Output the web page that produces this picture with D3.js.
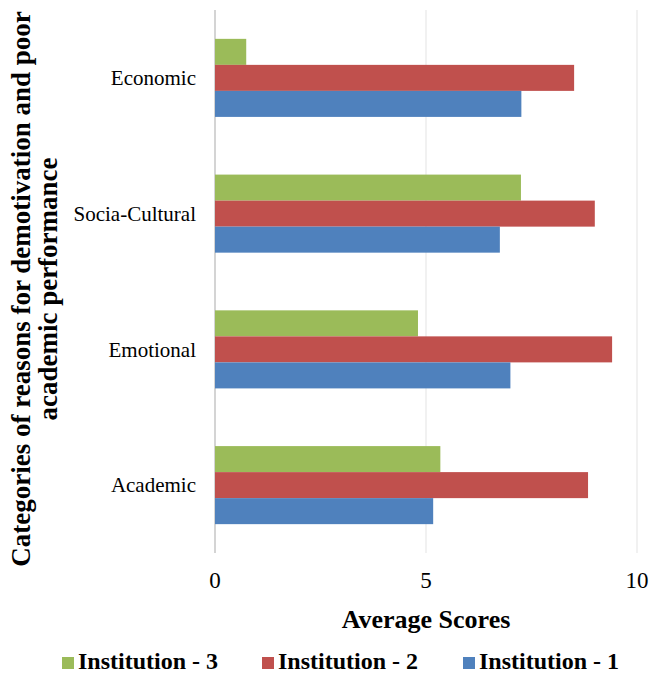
<!DOCTYPE html>
<html lang="en">
<head>
    <meta charset="UTF-8">
    <title>Average Scores by Category</title>
    <script src="https://d3js.org/d3.v7.min.js"></script>
    <style>
        body{
            margin: 0;
            background: #fff;
        }
        svg{
            display: block;
        }
        text{
            font-family: "Times New Roman", Times, "Liberation Serif", Tinos, serif;
            fill: #000;
        }
    </style>
</head>
<body>
<script>

    // data
    const categories = ["Economic", "Socia-Cultural", "Emotional", "Academic"]
    const seriesNames = ["Institution - 3", "Institution - 2", "Institution - 1"]
    const institution1 = [7.26, 6.75, 7.0, 5.17]
    const institution2 = [8.51, 9.0, 9.41, 8.84]
    const institution3 = [0.74, 7.25, 4.81, 5.34]
    const xTicks = [0, 5, 10]
    const colors = ["#9bbb59", "#c0504d", "#4f81bd"]

    const width = 651
    const height = 675
    const margin = {top: 10, left: 215, right: 14, bottom: 122}

    let svg = d3.select("body").append("svg")
                .attr("width", width)
                .attr("height", height)

    const values = [institution3, institution2, institution1]
    let rows = categories.map((c, i) => ({
        category: c,
        bars: seriesNames.map((s, j) => ({series: s, value: values[j][i], color: colors[j]}))
    }))

    const x = d3.scaleLinear().domain([0, 10])
                .range([margin.left, width - margin.right])

    const y = d3.scaleBand().domain(categories)
                .range([margin.top, height - margin.bottom])
                .paddingInner(0.425)
                .paddingOuter(0.2125)

    const ySub = d3.scaleBand().domain(seriesNames)
                .range([0, y.bandwidth()])

    // gridlines
    svg.append("g").selectAll("line")
        .data(xTicks)
        .enter()
        .append("line")
        .attr("x1", d => x(d)).attr("x2", d => x(d))
        .attr("y1", margin.top).attr("y2", height - margin.bottom)
        .attr("stroke", d => d === 0 ? "#d4d4d4" : "#ededed")
        .attr("stroke-width", d => d === 0 ? 2 : 1.5)

    // bars
    let gRows = svg.append("g").selectAll("g")
        .data(rows)
        .enter()
        .append("g")
        .attr("transform", d => `translate(0,${y(d.category)})`)

    gRows.selectAll("rect")
        .data(d => d.bars)
        .enter()
        .append("rect")
        .attr("x", x(0))
        .attr("y", d => ySub(d.series))
        .attr("width", d => x(d.value) - x(0))
        .attr("height", ySub.bandwidth())
        .attr("fill", d => d.color)

    // category labels
    svg.append("g").selectAll("text")
        .data(categories)
        .enter()
        .append("text")
        .attr("x", 196)
        .attr("y", d => y(d) + y.bandwidth() / 2)
        .attr("dy", "0.35em")
        .attr("text-anchor", "end")
        .attr("font-size", 21)
        .text(d => d)

    // x tick labels
    svg.append("g").selectAll("text")
        .data(xTicks)
        .enter()
        .append("text")
        .attr("x", d => x(d))
        .attr("y", 588)
        .attr("text-anchor", "middle")
        .attr("font-size", 23)
        .text(d => d)

    // axis titles
    svg.append("text")
        .attr("x", x(5))
        .attr("y", 628)
        .attr("text-anchor", "middle")
        .attr("font-size", 26)
        .attr("font-weight", "bold")
        .text("Average Scores")

    let yTitle = svg.append("text")
        .attr("transform", "translate(0,289) rotate(-90)")
        .attr("text-anchor", "middle")
        .attr("font-size", 27)
        .attr("font-weight", "bold")
    yTitle.append("tspan").attr("x", 0).attr("y", 30)
        .text("Categories of reasons for demotivation and poor")
    yTitle.append("tspan").attr("x", 0).attr("y", 57)
        .text("academic performance")

    // legend
    const legendX = [62, 262, 463]
    let gLegend = svg.append("g").selectAll("g")
        .data(seriesNames)
        .enter()
        .append("g")
        .attr("transform", (d, i) => `translate(${legendX[i]},657)`)

    gLegend.append("rect")
        .attr("width", 12).attr("height", 12)
        .attr("fill", (d, i) => colors[i])
    gLegend.append("text")
        .attr("x", 16)
        .attr("y", 12)
        .attr("font-size", 24)
        .attr("font-weight", "bold")
        .text(d => d)

</script>
</body>
</html>
